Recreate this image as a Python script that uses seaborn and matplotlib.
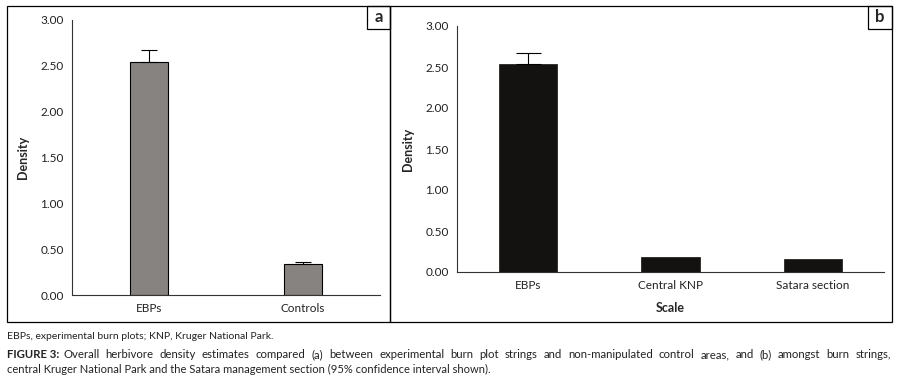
import matplotlib
matplotlib.use('Agg')
import matplotlib.pyplot as plt
from matplotlib.patches import Rectangle
import seaborn as sns
import pandas as pd

# data
cats_a = ['EBPs', 'Controls']
dens_a = [2.54, 0.335]
err_a = [0.13, 0.02]

cats_b = ['EBPs', 'Central KNP', 'Satara section']
dens_b = [2.54, 0.18, 0.16]
err_b = [0.13, 0.0, 0.0]

yticks = [0.0, 0.5, 1.0, 1.5, 2.0, 2.5, 3.0]

sns.set_style('white')
plt.rcParams['font.family'] = ['Lato', 'DejaVu Sans']

W, H = 899, 379
fig = plt.figure(figsize=(W / 100, H / 100), dpi=100)


def px_axes(l, t, r, b):
    return fig.add_axes([l / W, 1 - b / H, (r - l) / W, (b - t) / H])


def style_axes(ax, n):
    ax.set_ylim(0, 3)
    ax.set_xlim(-0.5, n - 0.5)
    ax.set_yticks(yticks)
    ax.set_yticklabels([f'{v:.2f}' for v in yticks], fontsize=8.5, color='#222222')
    ax.set_xticks(range(n))
    ax.tick_params(axis='x', which='major', length=0, labelsize=8.5, labelcolor='#222222', pad=6)
    ax.set_xticks([i - 0.5 for i in range(n + 1)], minor=True)
    ax.tick_params(axis='x', which='minor', length=4, width=0.8, direction='out', color='#333333')
    ax.tick_params(axis='y', length=4, width=0.8, direction='out', color='#333333', pad=2)
    for s in ['top', 'right']:
        ax.spines[s].set_visible(False)
    for s in ['left', 'bottom']:
        ax.spines[s].set_color('#333333')
        ax.spines[s].set_linewidth(0.8)
    ax.set_ylabel('Density', fontsize=9, fontweight='bold', labelpad=8)


# panel a
ax1 = px_axes(72, 20, 380, 295)
df_a = pd.DataFrame({'cat': cats_a, 'dens': dens_a})
sns.barplot(data=df_a, x='cat', y='dens', color='#878380', width=0.25,
            edgecolor='black', linewidth=0.8, saturation=1, ax=ax1)
ax1.errorbar(range(len(cats_a)), dens_a, yerr=[[0] * len(cats_a), err_a],
             fmt='none', ecolor='black', elinewidth=0.8, capsize=6, capthick=0.8)
style_axes(ax1, len(cats_a))
ax1.set_xlabel('')

# panel b
ax2 = px_axes(457, 26, 884, 272)
df_b = pd.DataFrame({'cat': cats_b, 'dens': dens_b})
sns.barplot(data=df_b, x='cat', y='dens', color='#141211', width=0.41,
            edgecolor='#141211', linewidth=0.5, saturation=1, ax=ax2)
ax2.errorbar([0], dens_b[:1], yerr=[[0], err_b[:1]],
             fmt='none', ecolor='black', elinewidth=0.8, capsize=9, capthick=0.8)
style_axes(ax2, len(cats_b))
ax2.set_xlabel('Scale', fontsize=9, fontweight='bold', labelpad=8)

# panel frames and letter boxes
for l, r in [(7, 390), (390, 892)]:
    fig.add_artist(Rectangle((l / W, 1 - 322 / H), (r - l) / W, 316 / H,
                             transform=fig.transFigure, fill=False,
                             edgecolor='black', linewidth=0.9))
for l, r, lab in [(367, 390, 'a'), (868, 892, 'b')]:
    fig.add_artist(Rectangle((l / W, 1 - 29 / H), (r - l) / W, 23 / H,
                             transform=fig.transFigure, fill=False,
                             edgecolor='black', linewidth=0.9))
    fig.text((l + r) / 2 / W, 1 - 17.5 / H, lab, ha='center', va='center',
             fontsize=12, fontweight='bold')

# captions
fig.text(7 / W, 1 - 339 / H, 'EBPs, experimental burn plots; KNP, Kruger National Park.',
         fontsize=7.5, va='baseline', color='#222222')
t_bold = fig.text(7 / W, 1 - 358 / H, 'FIGURE 3:', fontsize=8.2, fontweight='bold',
                  va='baseline', color='#222222')
fig.canvas.draw()
rend = fig.canvas.get_renderer()

# justified first caption line
line2 = ('Overall herbivore density estimates compared (a) between experimental burn plot strings '
         'and non-manipulated control areas, and (b) amongst burn strings,').split()
start = t_bold.get_window_extent(rend).x1 + 4
end = 891
words = [fig.text(0, 1 - 358 / H, w, fontsize=8.2, va='baseline', color='#222222') for w in line2]
widths = [w.get_window_extent(rend).width for w in words]
gap = (end - start - sum(widths)) / (len(words) - 1)
x = start
for w, wd in zip(words, widths):
    w.set_x(x / W)
    x += wd + gap

fig.text(7 / W, 1 - 373 / H,
         'central Kruger National Park and the Satara management section (95% confidence interval shown).',
         fontsize=8, va='baseline', color='#222222')

fig.savefig('out.png', dpi=100)
